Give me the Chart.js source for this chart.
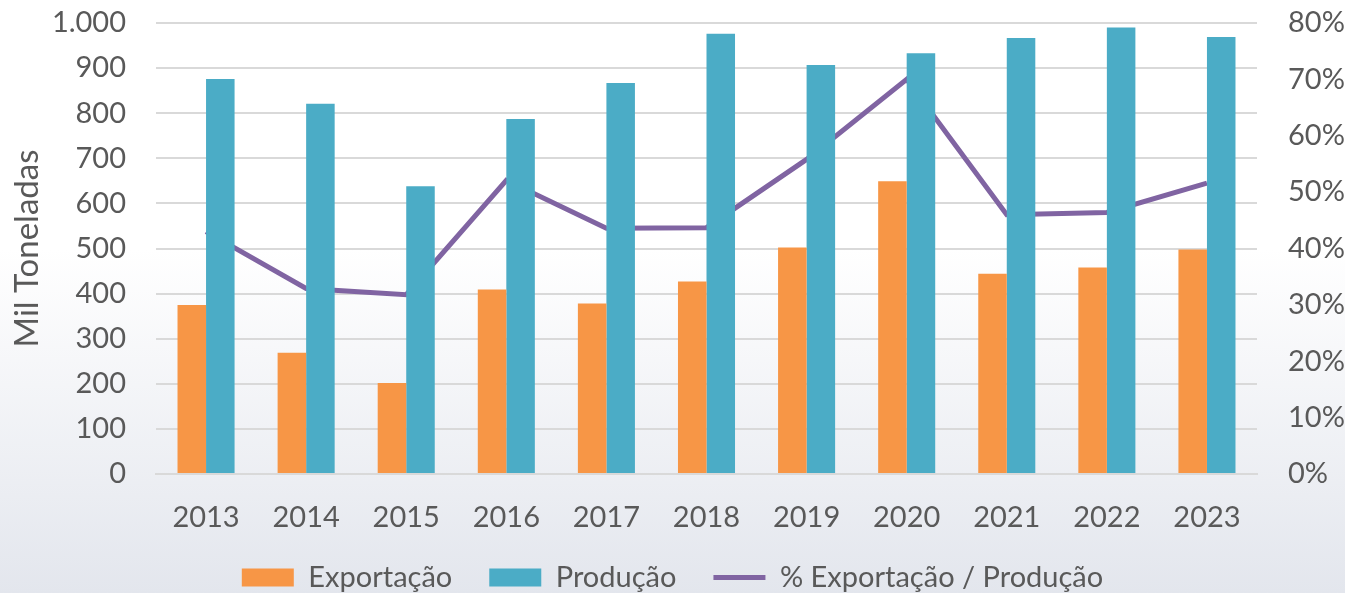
<!DOCTYPE html>
<html>
<head>
<meta charset="utf-8">
<script src="https://cdn.jsdelivr.net/npm/chart.js@4"></script>
<style>
  html, body { margin: 0; padding: 0; }
  body {
    width: 1345px; height: 593px; overflow: hidden;
    background: linear-gradient(to bottom, #ffffff 0%, #ffffff 42%, #e3e6ed 100%);
  }
  #wrap { position: relative; width: 1345px; height: 593px; }
</style>
</head>
<body>
<div id="wrap"><canvas id="canvas"></canvas></div>
<script>
// Code goes here

var anos = ["2013","2014","2015","2016","2017","2018","2019","2020","2021","2022","2023"];
var exportacao = [375, 269, 202, 409, 378, 427, 502, 649, 444, 458, 498];
var producao   = [876, 821, 638, 787, 867, 976, 907, 933, 967, 990, 969];
var pctExportacao = [43.0, 32.9, 31.8, 52.1, 43.6, 43.7, 55.8, 70.0, 46.0, 46.4, 51.6];

var fonte = "Lato, 'Open Sans', sans-serif";
var cinza = "#595959";

function milhar(v) {
  return String(v).replace(/\B(?=(\d{3})+(?!\d))/g, ".");
}

// pull the legend up a bit, it has a big padding for the horizontal spacing
var legendShift = {
  id: "legendShift",
  afterLayout: function(chart) {
    var lg = chart.legend;
    if (lg) { lg.top -= 12; lg.bottom -= 12; }
  }
};

var chartData = {
  labels: anos,
  datasets: [
    {
      type: "bar",
      label: "Exportação",
      data: exportacao,
      backgroundColor: "#F79646",
      borderWidth: 0,
      yAxisID: "y",
      pointStyle: "rect"
    },
    {
      type: "bar",
      label: "Produção",
      data: producao,
      backgroundColor: "#4BACC6",
      borderWidth: 0,
      yAxisID: "y",
      pointStyle: "rect"
    },
    {
      type: "line",
      label: "% Exportação / Produção",
      data: pctExportacao,
      borderColor: "#8064A2",
      backgroundColor: "#8064A2",
      borderWidth: 5,
      pointRadius: 0,
      pointHoverRadius: 0,
      tension: 0,
      yAxisID: "y1",
      pointStyle: "line"
    }
  ]
};

window.onload = function(){
  var ctx = document.getElementById("canvas").getContext("2d");
  window.myChart = new Chart(ctx, {
    data: chartData,
    plugins: [legendShift],
    options: {
      responsive: true,
      maintainAspectRatio: false,
      animation: false,
      layout: { padding: { top: 23, right: 0, bottom: -21, left: 0 } },
      datasets: {
        bar: { categoryPercentage: 0.57, barPercentage: 1.0 }
      },
      plugins: {
        tooltip: { enabled: false },
        legend: {
          position: "bottom",
          labels: {
            usePointStyle: true,
            pointStyleWidth: 52,
            boxWidth: 52,
            boxHeight: 18,
            padding: 37,
            color: cinza,
            font: { family: fonte, size: 29 }
          }
        }
      },
      scales: {
        x: {
          grid: { display: false, drawTicks: false },
          border: { display: true, color: "#d9d9d9", width: 2 },
          ticks: { color: cinza, padding: 26, font: { family: fonte, size: 29 } },
          afterFit: function(s) { s.height = 64; }
        },
        y: {
          position: "left",
          min: 0, max: 1000,
          grid: { color: "#d9d9d9", lineWidth: 2, drawTicks: false },
          border: { display: false },
          ticks: {
            stepSize: 100, padding: 30, color: cinza,
            font: { family: fonte, size: 29 },
            callback: function(v) { return milhar(v); }
          },
          title: {
            display: true, text: "Mil Toneladas", color: cinza,
            font: { family: fonte, size: 33 },
            padding: { top: 8, bottom: 0 }
          },
          afterFit: function(s) { s.width = 156; s.paddingTop = 0; s.paddingBottom = 0; }
        },
        y1: {
          position: "right",
          min: 0, max: 80,
          grid: { display: false, drawTicks: false },
          border: { display: false },
          ticks: {
            stepSize: 10, padding: 31, color: cinza,
            font: { family: fonte, size: 29 },
            callback: function(v) { return v + "%"; }
          },
          afterFit: function(s) { s.width = 88; s.paddingTop = 0; s.paddingBottom = 0; }
        }
      }
    }
  });
};
</script>
</body>
</html>
